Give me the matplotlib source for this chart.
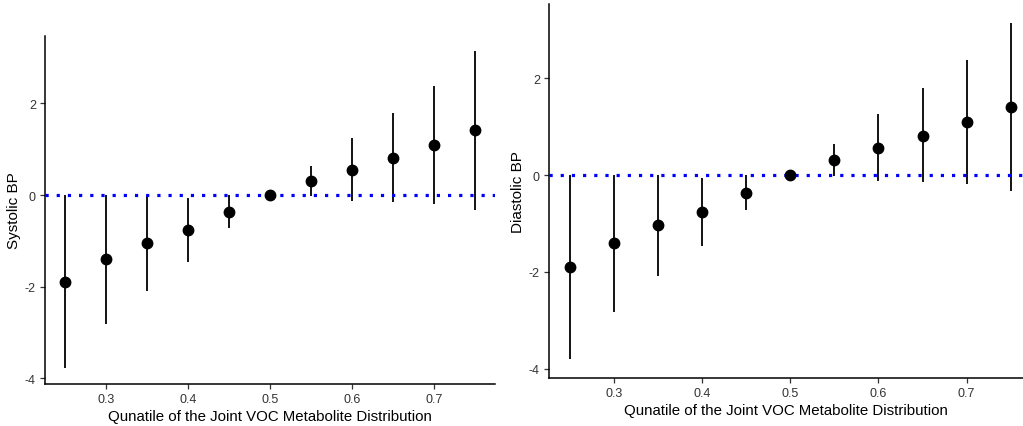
import matplotlib
matplotlib.use("Agg")
import matplotlib.pyplot as plt

plt.rcParams['font.family'] = ['Liberation Sans', 'DejaVu Sans']
plt.rcParams['axes.unicode_minus'] = False

# quantiles and estimates (same values in both panels)
quantiles = [0.25, 0.30, 0.35, 0.40, 0.45, 0.50, 0.55, 0.60, 0.65, 0.70, 0.75]
estimate = [-1.90, -1.40, -1.04, -0.76, -0.37, 0.0, 0.31, 0.55, 0.81, 1.09, 1.41]
lower = [-3.79, -2.82, -2.09, -1.46, -0.72, 0.0, -0.03, -0.12, -0.15, -0.19, -0.32]
upper = [0.0, 0.0, 0.0, -0.06, 0.0, 0.0, 0.64, 1.25, 1.79, 2.38, 3.14]

xticks = [0.3, 0.4, 0.5, 0.6, 0.7]
yticks = [-4, -2, 0, 2]
xlabel = "Qunatile of the Joint VOC Metabolite Distribution"
ylabels = ["Systolic BP", "Diastolic BP"]

W, H = 1023, 427
fig = plt.figure(figsize=(W / 100, H / 100), dpi=100)

def px_axes(x0, y0, x1, y1):
    return fig.add_axes([x0 / W, (H - y1) / H, (x1 - x0) / W, (y1 - y0) / H])

def draw(ax, ylab, xlim, ylim):
    ax.vlines(quantiles, lower, upper, color='black', lw=1.3, zorder=2)
    ax.axhline(0, color='#0000ff', lw=2.3, linestyle=(0, (1, 2.5)),
               dash_capstyle='butt', zorder=3)
    ax.plot(quantiles, estimate, 'o', color='black', ms=7.5, zorder=4)
    ax.set_xlim(*xlim)
    ax.set_ylim(*ylim)
    ax.set_xticks(xticks)
    ax.set_xticklabels([f"{t:.1f}" for t in xticks])
    ax.set_yticks(yticks)
    for side in ['top', 'right']:
        ax.spines[side].set_visible(False)
    for side in ['left', 'bottom']:
        ax.spines[side].set_linewidth(1.1)
    ax.tick_params(direction='out', length=3.5, width=0.9, color='#333333',
                   labelsize=9, labelcolor='#333333', pad=3)
    ax.set_xlabel(xlabel, fontsize=10.8, labelpad=3)
    ax.set_ylabel(ylab, fontsize=11, labelpad=3)

ax1 = px_axes(45, 37, 495, 385)
draw(ax1, ylabels[0], (0.2256, 0.7744), (-4.13, 3.475))

ax2 = px_axes(549, 5, 1023, 379)
draw(ax2, ylabels[1], (0.2261, 0.764), (-4.19, 3.53))

fig.savefig("out.png", dpi=100)
